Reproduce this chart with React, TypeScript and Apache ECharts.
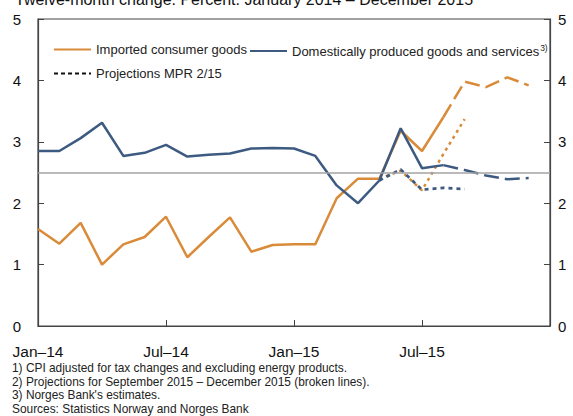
import React, { useEffect, useRef } from "react";
import * as echarts from "echarts";

const months = [
  "Jan–14","Feb–14","Mar–14","Apr–14","May–14","Jun–14","Jul–14","Aug–14","Sep–14","Oct–14","Nov–14","Dec–14",
  "Jan–15","Feb–15","Mar–15","Apr–15","May–15","Jun–15","Jul–15","Aug–15","Sep–15","Oct–15","Nov–15","Dec–15","Jan–16",
];

const importedActual = [1.58,1.34,1.68,1.0,1.33,1.45,1.78,1.12,1.45,1.77,1.21,1.32,1.33,1.33,2.08,2.4,2.4,3.18,2.85,3.4];
const importedProj = [3.4,3.98,3.89,4.05,3.92]; // Aug-15 .. Dec-15
const domesticActual = [2.85,2.85,3.06,3.31,2.77,2.82,2.95,2.76,2.79,2.81,2.89,2.9,2.89,2.77,2.29,2.0,2.37,3.22,2.57,2.62];
const domesticProj = [2.62,2.54,2.45,2.39,2.41]; // Aug-15 .. Dec-15
const importedMpr = [2.4,2.53,2.21,2.8,3.37]; // May-15 .. Sep-15
const domesticMpr = [2.37,2.55,2.22,2.25,2.23]; // May-15 .. Sep-15
const inflationTarget = 2.5;
const yTicks = [0, 1, 2, 3, 4, 5];

const NAME_IMP = "Imported consumer goods";
const NAME_DOM = "Domestically produced goods and services";
const NAME_PROJ = "Projections MPR 2/15";

const title = "Twelve-month change. Percent. January 2014 – December 2015";
const footnotes = [
  "1) CPI adjusted for tax changes and excluding energy products.",
  "2) Projections for September 2015 – December 2015 (broken lines).",
  "3) Norges Bank's estimates.",
  "Sources: Statistics Norway and Norges Bank",
];

const ORANGE = "#D98B3A";
const BLUE = "#3D5A80";
const FONT = "'Liberation Sans', Arial, Helvetica, sans-serif";
const LEGEND_FS = 13;

function place(values: number[], start: number): (number | null)[] {
  const out: (number | null)[] = months.map(() => null);
  values.forEach((v, i) => {
    out[start + i] = v;
  });
  return out;
}

const legendBase = {
  itemWidth: 37,
  itemHeight: 14,
  itemGap: 0,
  itemStyle: { opacity: 0 },
  selectedMode: false,
  textStyle: {
    fontFamily: FONT,
    fontSize: LEGEND_FS,
    color: "#222",
    rich: {
      n: { fontFamily: FONT, fontSize: LEGEND_FS, color: "#222" },
      s: { fontFamily: FONT, fontSize: 8.5, color: "#222", verticalAlign: "top", padding: [0, 0, 7, 1] },
    },
  },
};

export default function App() {
  const ref = useRef<HTMLDivElement>(null);
  useEffect(() => {
    if (!ref.current) return;
    const chart = echarts.init(ref.current, undefined, { renderer: "svg" });
    const projStart = importedActual.length - 1;
    const mprStart = 16;
    const tickShown = (i: number) => i % 6 === 0;
    chart.setOption({
      animation: false,
      textStyle: { fontFamily: FONT },
      grid: {
        left: 38,
        right: 23,
        top: 19,
        bottom: 90,
        show: true,
        borderColor: "#444",
        borderWidth: 1.2,
        backgroundColor: "transparent",
      },
      legend: [
        { ...legendBase, left: 48, top: 38, data: [NAME_IMP] },
        {
          ...legendBase,
          left: 244,
          top: 38,
          data: [NAME_DOM],
          formatter: (name: string) => `{n|${name}}{s|3)}`,
        },
        { ...legendBase, left: 48, top: 62, data: [NAME_PROJ] },
      ],
      xAxis: {
        type: "category",
        data: months,
        boundaryGap: false,
        axisLine: { show: true, lineStyle: { color: "#444", width: 1.2 } },
        axisTick: {
          show: true,
          inside: true,
          length: 6,
          interval: (i: number) => tickShown(i) && i > 0 && i < months.length - 1,
          lineStyle: { color: "#444" },
        },
        axisLabel: {
          interval: (i: number) => tickShown(i) && i < months.length - 1,
          fontSize: 15.5,
          color: "#111",
          margin: 17,
          fontFamily: FONT,
        },
        splitLine: { show: false },
      },
      yAxis: [
        {
          type: "value",
          min: yTicks[0],
          max: yTicks[yTicks.length - 1],
          interval: 1,
          position: "left",
          axisLine: { show: true, lineStyle: { color: "#444", width: 1.2 } },
          axisTick: { show: true, inside: true, length: 6, lineStyle: { color: "#444" } },
          axisLabel: { fontSize: 15, color: "#111", margin: 17, fontFamily: FONT },
          splitLine: { show: false },
        },
        {
          type: "value",
          min: yTicks[0],
          max: yTicks[yTicks.length - 1],
          interval: 1,
          position: "right",
          axisLine: { show: true, lineStyle: { color: "#444", width: 1.2 } },
          axisTick: { show: true, inside: true, length: 6, lineStyle: { color: "#444" } },
          axisLabel: { fontSize: 15, color: "#111", margin: 8, fontFamily: FONT },
          splitLine: { show: false },
        },
      ],
      series: [
        {
          name: "refline",
          type: "line",
          data: [],
          silent: true,
          markLine: {
            silent: true,
            symbol: "none",
            label: { show: false },
            lineStyle: { color: "#a3a3a3", width: 1.6, type: "solid" },
            data: [{ yAxis: inflationTarget }],
          },
        },
        {
          name: "imp_mpr",
          type: "line",
          data: place(importedMpr, mprStart),
          symbol: "none",
          lineStyle: { color: ORANGE, width: 2.5, type: [3, 4] },
          itemStyle: { color: ORANGE },
        },
        {
          name: "dom_mpr",
          type: "line",
          data: place(domesticMpr, mprStart),
          symbol: "none",
          lineStyle: { color: BLUE, width: 2.7, type: [4, 4] },
          itemStyle: { color: BLUE },
        },
        {
          name: NAME_IMP,
          type: "line",
          data: place(importedActual, 0),
          symbol: "none",
          lineStyle: { color: ORANGE, width: 2.5 },
          itemStyle: { color: ORANGE },
        },
        {
          name: "imp_proj",
          type: "line",
          data: place(importedProj, projStart),
          symbol: "none",
          lineStyle: { color: ORANGE, width: 2.5, type: [15, 6] },
          itemStyle: { color: ORANGE },
        },
        {
          name: NAME_DOM,
          type: "line",
          data: place(domesticActual, 0),
          symbol: "none",
          lineStyle: { color: BLUE, width: 2.5 },
          itemStyle: { color: BLUE },
        },
        {
          name: "dom_proj",
          type: "line",
          data: place(domesticProj, projStart),
          symbol: "none",
          lineStyle: { color: BLUE, width: 2.5, type: [15, 6] },
          itemStyle: { color: BLUE },
        },
        {
          name: NAME_PROJ,
          type: "line",
          data: [],
          symbol: "none",
          lineStyle: { color: "#111", width: 2.2, type: [4, 3] },
          itemStyle: { color: "#111" },
        },
      ],
      graphic: [
        {
          type: "text",
          left: 15,
          top: -9,
          style: { text: title, fontSize: 16, fontFamily: FONT, fill: "#111" },
        },
        ...footnotes.map((t, i) => ({
          type: "text",
          left: 12,
          top: 362 + i * 13.5,
          style: { text: t, fontSize: 11.9, fontFamily: FONT, fill: "#222" },
        })),
      ],
    });
    return () => chart.dispose();
  }, []);
  return (
    <div
      ref={ref}
      style={{ position: "fixed", left: 0, top: 0, width: 573, height: 416, background: "#fff" }}
    />
  );
}
